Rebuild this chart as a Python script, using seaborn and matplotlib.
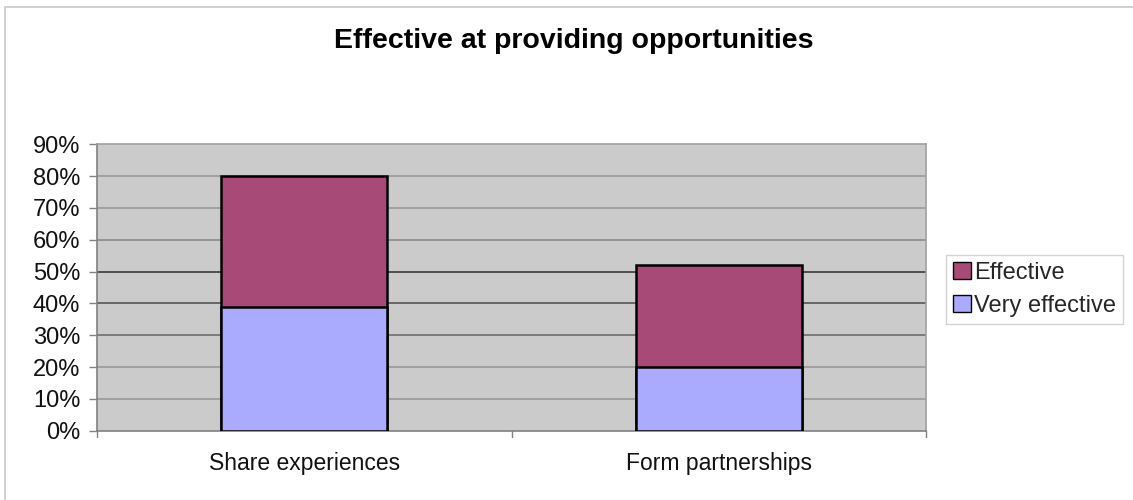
import matplotlib
matplotlib.use("Agg")
import matplotlib.pyplot as plt
import seaborn as sns
import pandas as pd
from matplotlib.patches import Patch, Rectangle

categories = ["Share experiences", "Form partnerships"]
very_effective = [39, 20]
effective = [41, 32]
tick_values = [0, 10, 20, 30, 40, 50, 60, 70, 80, 90]
tick_labels = [f"{v}%" for v in tick_values]

series_names = ["Effective", "Very effective"]
series_colors = ["#A84A78", "#AAAAFF"]

sns.set_theme(style="white")
plt.rcParams["font.family"] = ["Liberation Sans", "DejaVu Sans"]

df = pd.DataFrame({
    "category": categories,
    "very_effective": very_effective,
    "total": [a + b for a, b in zip(very_effective, effective)],
})

fig = plt.figure(figsize=(11.33, 5.0), dpi=100)
ax = fig.add_axes([97 / 1133, 1 - 430.7 / 500, (926 - 97) / 1133, (430.7 - 144.3) / 500])
ax.set_facecolor("#CBCBCB")

# chart-area border
fig.patches.append(Rectangle((5 / 1133, -0.1), 1.2, (500 - 7) / 500 + 0.1,
                             transform=fig.transFigure, fill=False,
                             edgecolor="#C8C8C8", linewidth=1.2, zorder=0))

# stacked bars: full stack first, lower segment drawn over it
sns.barplot(data=df, x="category", y="total", color=series_colors[0],
            width=0.4, edgecolor="black", linewidth=1.8, saturation=1, ax=ax, zorder=3)
sns.barplot(data=df, x="category", y="very_effective", color=series_colors[1],
            width=0.4, edgecolor="black", linewidth=1.8, saturation=1, ax=ax, zorder=4)

ax.set_xlim(-0.5, 1.5)
ax.set_ylim(0, 90)
ax.set_yticks(tick_values)
ax.set_yticklabels(tick_labels, fontsize=17, color="#111111")
ax.set_xlabel("")
ax.set_ylabel("")
ax.set_xticks([0, 1])
ax.set_xticklabels(categories, fontsize=16.5, color="#111111")
ax.tick_params(axis="x", length=0, pad=15)
ax.tick_params(axis="y", length=6, width=1, color="#808080", pad=6, left=True)

# category boundary ticks on the x axis
for xb in [-0.5, 0.5, 1.5]:
    ax.plot([xb, xb], [0, -0.022], transform=ax.get_xaxis_transform(),
            color="#808080", lw=1, clip_on=False, zorder=5)

# horizontal gridlines
grid_colors = {10: "#999999", 20: "#999999", 30: "#6E6E6E", 40: "#555555",
               50: "#3A3A3A", 60: "#8A8A8A", 70: "#999999", 80: "#999999"}
for v, c in grid_colors.items():
    ax.axhline(v, color=c, lw=1.2, zorder=1)

for side in ["top", "right"]:
    ax.spines[side].set_color("#A0A0A0")
    ax.spines[side].set_linewidth(1.2)
for side in ["left", "bottom"]:
    ax.spines[side].set_color("#808080")
    ax.spines[side].set_linewidth(1.2)

fig.text(574 / 1133, 1 - 41 / 500, "Effective at providing opportunities",
         ha="center", va="center", fontsize=20.5, fontweight="bold", color="black")

handles = [Patch(facecolor=c, edgecolor="black", linewidth=1) for c in series_colors]
leg = fig.legend(handles, series_names, loc="upper left",
                 bbox_to_anchor=(946 / 1133, 1 - 255 / 500),
                 fontsize=17, frameon=True, fancybox=False,
                 handlelength=0.75, handleheight=0.75, handletextpad=0.15,
                 labelspacing=0.45, borderpad=0.3, borderaxespad=0)
leg.get_frame().set_edgecolor("#C8C8C8")
leg.get_frame().set_linewidth(1)

fig.savefig("out.png", dpi=100, facecolor="white")
